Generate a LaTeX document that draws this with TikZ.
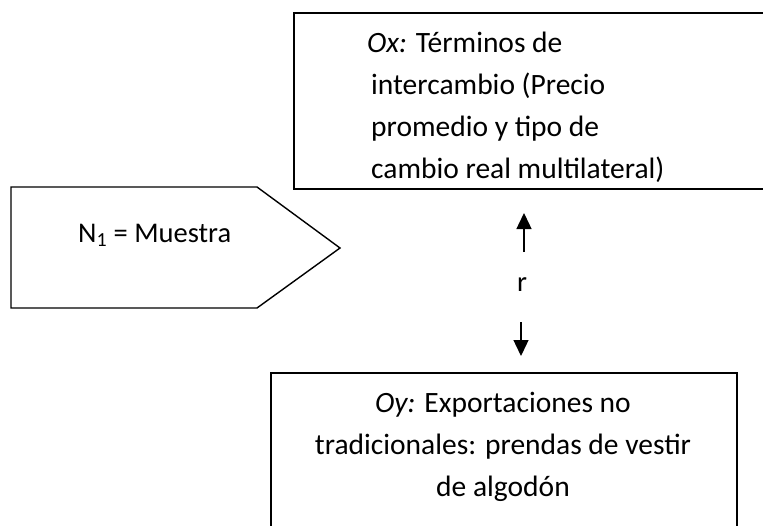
\documentclass[tikz,border=0pt]{standalone}
\usepackage{fontspec}
\setmainfont{Carlito}
\usetikzlibrary{arrows.meta}
\begin{document}
\begin{tikzpicture}[x=1pt,y=-1pt,
  shapeline/.style={draw=black,line width=1.4pt},
  bigtext/.style={font=\fontsize{29.5}{41.7}\selectfont,inner sep=0pt},
  arr/.style={line width=1.4pt,-{Triangle[width=15pt,length=16pt]}}]
\useasboundingbox (0,0) rectangle (763,525);
\clip (0,0) rectangle (763,525);
% top box
\draw[shapeline] (294,13) rectangle (790,189);
\node[bigtext,anchor=base west,align=left] (ox) at (367,178)
  {{\itshape Ox:} Términos de\\
   \hspace*{4pt}intercambio (Precio\\
   \hspace*{4pt}promedio y tipo de\\
   \hspace*{4pt}cambio real multilateral)};
% pentagon
\draw[shapeline,line join=miter] (11,187) -- (257,187) -- (340,248) -- (257,308) -- (11,308) -- cycle;
\node[font=\fontsize{28.5}{34}\selectfont,inner sep=0pt,anchor=base west] (n1) at (78,242) {N\textsubscript{1} = Muestra};
% r and arrows
\node[font=\fontsize{28.5}{34}\selectfont,inner sep=0pt] (r) at (522,285) {r};
\coordinate (upA) at (524,252);
\coordinate (upB) at (524,213);
\coordinate (dnA) at (521,322);
\coordinate (dnB) at (521,356);
\draw[arr] (upA) -- (upB);
\draw[arr] (dnA) -- (dnB);
% bottom box
\draw[shapeline] (271,373) rectangle (737,560);
\node[bigtext,align=center,anchor=base] (oy) at (503,496)
  {{\itshape Oy:} Exportaciones no\\
   tradicionales: prendas de vestir\\
   de algodón};
\end{tikzpicture}
\end{document}
